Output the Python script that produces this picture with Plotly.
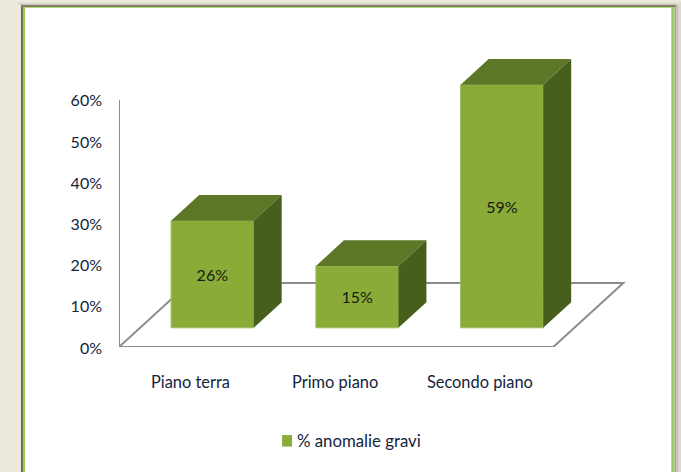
import plotly.graph_objects as go

categories = ["Piano terra", "Primo piano", "Secondo piano"]
values = [26, 15, 59]
y_ticks = [0, 10, 20, 30, 40, 50, 60]
series_name = "% anomalie gravi"

WIDTH, HEIGHT = 681, 472
LEFT, BOTTOM_PX = 119, 347  # where the axis origin sits on the page
PX_X = 144.67  # pixels per category
PX_Y = 4.117  # pixels per percentage point
X_RANGE = [-0.5, 3.03]
Y_RANGE = [0, 75]

# oblique projection of the 3D floor, in axis units
DEPTH_X = 70 / PX_X
DEPTH_Y = 64 / PX_Y
BAR_FRONT, BAR_BACK = 0.3, 0.7
BAR_WIDTH = 0.57

FRONT_COLOR = "#8aab38"
TOP_COLOR = "#5d7726"
SIDE_COLOR = "#465f1c"
AXIS_COLOR = "#8c8c8c"
TEXT_COLOR = "#14233c"
FONT = "Lato"


def project(x, y, depth):
    return x + depth * DEPTH_X, y + depth * DEPTH_Y


def page_x(px):
    return (px - LEFT) / ((X_RANGE[1] - X_RANGE[0]) * PX_X)


def page_y(px):
    return (BOTTOM_PX - px) / ((Y_RANGE[1] - Y_RANGE[0]) * PX_Y)


def page_rect(x0, x1, y0, y1, color):
    return dict(
        type="rect",
        xref="paper",
        yref="paper",
        x0=page_x(x0),
        x1=page_x(x1),
        y0=page_y(y0),
        y1=page_y(y1),
        fillcolor=color,
        line_width=0,
        layer="below",
    )


def face(corners, color):
    xs = [c[0] for c in corners]
    ys = [c[1] for c in corners]
    return go.Scatter(
        x=xs + xs[:1],
        y=ys + ys[:1],
        mode="lines",
        line={"width": 0},
        fill="toself",
        fillcolor=color,
        showlegend=False,
        hoverinfo="skip",
    )


fig = go.Figure()

# front faces
front_x = [project(i, 0, BAR_FRONT)[0] for i in range(len(values))]
front_base = project(0, 0, BAR_FRONT)[1]
fig.add_trace(
    go.Bar(
        x=front_x,
        y=values,
        base=front_base,
        width=BAR_WIDTH,
        name=series_name,
        marker={"color": FRONT_COLOR, "line": {"color": "#9dbb5c", "width": 1}},
        text=[f"{v}%" for v in values],
        textposition="inside",
        insidetextanchor="middle",
        textangle=0,
        textfont={"family": FONT, "size": 16, "color": "#151a10"},
        showlegend=False,
    )
)

# top and side faces
for i, value in enumerate(values):
    x0, x1 = i - BAR_WIDTH / 2, i + BAR_WIDTH / 2
    fig.add_trace(
        face(
            [
                project(x0, value, BAR_FRONT),
                project(x1, value, BAR_FRONT),
                project(x1, value, BAR_BACK),
                project(x0, value, BAR_BACK),
            ],
            TOP_COLOR,
        )
    )
    fig.add_trace(
        face(
            [
                project(x1, 0, BAR_FRONT),
                project(x1, value, BAR_FRONT),
                project(x1, value, BAR_BACK),
                project(x1, 0, BAR_BACK),
            ],
            SIDE_COLOR,
        )
    )

# floor and wall
floor = [project(X_RANGE[0], 0, 0), project(2.5, 0, 0), project(2.5, 0, 1), project(X_RANGE[0], 0, 1)]
floor_path = "M " + " L ".join(f"{x},{y}" for x, y in floor) + " Z"

shapes = [
    # shadow round the panel
    page_rect(18, 678, 2.5, 5, "#dddbcf"),
    page_rect(678, 681, 2.5, 480, "#dcdacf"),
    page_rect(676, 678, 5, 480, "#c6c5ba"),
    page_rect(674, 676, 5, 480, "#a9a89d"),
    # panel
    page_rect(25, 673.5, 7, 480, "white"),
    page_rect(671, 673.5, 7, 480, "#8fce4c"),
    page_rect(23, 25, 7, 480, "#8fce4c"),
    page_rect(25, 671, 7, 8, "#8fce4c"),
    page_rect(21, 23, 5, 480, "#6f6a58"),
    page_rect(21, 675, 5, 7.2, "#867c68"),
    # floor and wall
    dict(type="path", path=floor_path, xref="x", yref="y", line={"color": AXIS_COLOR, "width": 2}, layer="below"),
    dict(type="line", xref="x", yref="y", x0=X_RANGE[0], x1=X_RANGE[0], y0=0, y1=y_ticks[-1],
         line={"color": AXIS_COLOR, "width": 2}, layer="below"),
    # legend swatch
    page_rect(282, 292, 435, 446.5, FRONT_COLOR),
]

fig.update_layout(
    width=WIDTH,
    height=HEIGHT,
    margin={
        "l": LEFT,
        "r": WIDTH - LEFT - (X_RANGE[1] - X_RANGE[0]) * PX_X,
        "t": HEIGHT - (HEIGHT - BOTTOM_PX) - (Y_RANGE[1] - Y_RANGE[0]) * PX_Y,
        "b": HEIGHT - BOTTOM_PX,
        "pad": 0,
    },
    paper_bgcolor="#ece9dd",
    plot_bgcolor="rgba(0,0,0,0)",
    showlegend=False,
    shapes=shapes,
    font={"family": FONT, "size": 16, "color": TEXT_COLOR},
    annotations=[
        dict(
            text=series_name,
            xref="paper",
            yref="paper",
            x=page_x(295),
            y=page_y(440.5),
            xanchor="left",
            yanchor="middle",
            showarrow=False,
            font={"family": FONT, "size": 16.8, "color": TEXT_COLOR},
        )
    ],
    xaxis={
        "range": X_RANGE,
        "tickvals": list(range(len(categories))),
        "ticktext": categories,
        "tickfont": {"size": 16.4},
        "showgrid": False,
        "zeroline": False,
        "showline": False,
        "ticks": "",
        "ticklabelstandoff": 24,
        "ticklabelshift": -1,
        "tickangle": 0,
    },
    yaxis={
        "range": Y_RANGE,
        "tickvals": y_ticks,
        "ticktext": [f"{t}%" for t in y_ticks],
        "showgrid": False,
        "zeroline": False,
        "showline": False,
        "ticks": "",
        "ticklabelstandoff": 16,
        "ticklabelshift": 1,
    },
)

fig.write_html(
    "out.html",
    config={"displayModeBar": False},
    post_script="document.body.style.margin='0';",
)
